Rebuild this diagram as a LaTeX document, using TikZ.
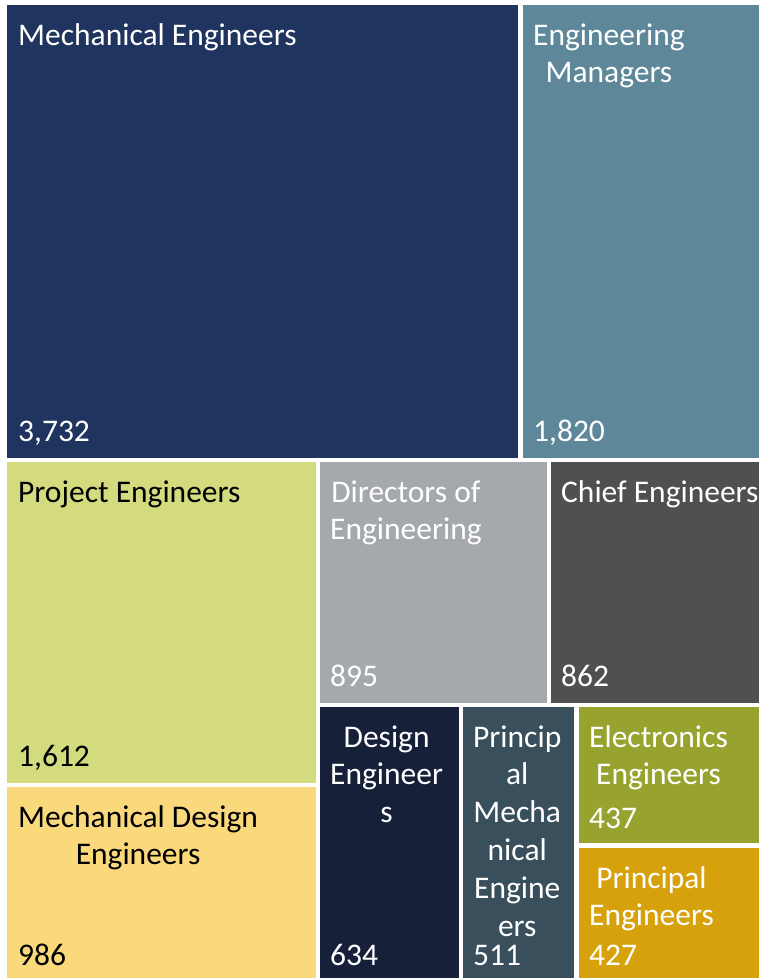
\documentclass[tikz,border=0pt]{standalone}
\usepackage{fontspec}
\setmainfont{Carlito}
\definecolor{mechblue}{HTML}{203460}
\definecolor{mgrteal}{HTML}{5E8899}
\definecolor{projgreen}{HTML}{D4DA7E}
\definecolor{mdyellow}{HTML}{FAD87C}
\definecolor{dirgray}{HTML}{A5A8AC}
\definecolor{chiefgray}{HTML}{505050}
\definecolor{designnavy}{HTML}{162039}
\definecolor{pmslate}{HTML}{394F5C}
\definecolor{elecolive}{HTML}{98A22E}
\definecolor{pegold}{HTML}{D6A10A}

\begin{document}
\begin{tikzpicture}[x=1pt, y=-1pt,
   tile/.style={anchor=north west, inner sep=0pt, outer sep=0pt},
   lbl/.style={anchor=base west, inner sep=0pt, text=white, align=center, font=\fontsize{31.5}{37.8}\selectfont}]
\fill[white] (0,0) rectangle (759,978);
\useasboundingbox (0,0) rectangle (759,978);
\clip (0,0) rectangle (759,978);
\node[tile, fill=mechblue, minimum width=511pt, minimum height=453pt] (mecheng) at (7,5) {};
\node[tile, fill=mgrteal, minimum width=239pt, minimum height=453pt] (engmgr) at (523,5) {};
\node[tile, fill=projgreen, minimum width=309pt, minimum height=321pt] (projeng) at (7,462) {};
\node[tile, fill=mdyellow, minimum width=309pt, minimum height=195pt] (mechdesign) at (7,787) {};
\node[tile, fill=dirgray, minimum width=227pt, minimum height=241pt] (directors) at (320,462) {};
\node[tile, fill=chiefgray, minimum width=211pt, minimum height=241pt] (chief) at (551,462) {};
\node[tile, fill=designnavy, minimum width=139pt, minimum height=275pt] (designeng) at (320,707) {};
\node[tile, fill=pmslate, minimum width=111pt, minimum height=275pt] (princmech) at (463,707) {};
\node[tile, fill=elecolive, minimum width=183pt, minimum height=136pt] (electronics) at (579,707) {};
\node[tile, fill=pegold, minimum width=183pt, minimum height=134pt] (princeng) at (579,848) {};

\node[lbl] (mechengname) at ([xshift=11pt, yshift=-40pt]mecheng.north west) {Mechanical Engineers};
\node[lbl] (mechengval) at ([xshift=11pt, yshift=17pt]mecheng.south west) {3,732};
\node[lbl] (engmgrname) at ([xshift=10pt, yshift=-77.8pt]engmgr.north west) {Engineering\\Managers};
\node[lbl] (engmgrval) at ([xshift=10pt, yshift=17pt]engmgr.south west) {1,820};
\node[lbl, text=black] (projengname) at ([xshift=11pt, yshift=-40pt]projeng.north west) {Project Engineers};
\node[lbl, text=black] (projengval) at ([xshift=11pt, yshift=17pt]projeng.south west) {1,612};
\node[lbl, text=black] (mechdesignname) at ([xshift=11pt, yshift=-77.8pt]mechdesign.north west) {Mechanical Design\\Engineers};
\node[lbl, text=black] (mechdesignval) at ([xshift=11pt, yshift=17pt]mechdesign.south west) {986};
\node[lbl] (directorsname) at ([xshift=10pt, yshift=-77.8pt]directors.north west) {Directors of\\Engineering};
\node[lbl] (directorsval) at ([xshift=10pt, yshift=17pt]directors.south west) {895};
\node[lbl] (chiefname) at ([xshift=10pt, yshift=-40pt]chief.north west) {Chief Engineers};
\node[lbl] (chiefval) at ([xshift=10pt, yshift=17pt]chief.south west) {862};
\node[lbl] (designengname) at ([xshift=10pt, yshift=-115.6pt]designeng.north west) {Design\\Engineer\\s};
\node[lbl] (designengval) at ([xshift=10pt, yshift=17pt]designeng.south west) {634};
\node[lbl] (princmechname) at ([xshift=10pt, yshift=-229pt]princmech.north west) {Princip\\al\\Mecha\\nical\\Engine\\ers};
\node[lbl] (princmechval) at ([xshift=10pt, yshift=17pt]princmech.south west) {511};
\node[lbl] (electronicsname) at ([xshift=10pt, yshift=-77.8pt]electronics.north west) {Electronics\\Engineers};
\node[lbl] (electronicsval) at ([xshift=10pt, yshift=15pt]electronics.south west) {437};
\node[lbl] (princengname) at ([xshift=10pt, yshift=-77.8pt]princeng.north west) {Principal\\Engineers};
\node[lbl] (princengval) at ([xshift=10pt, yshift=17pt]princeng.south west) {427};
\end{tikzpicture}
\end{document}
